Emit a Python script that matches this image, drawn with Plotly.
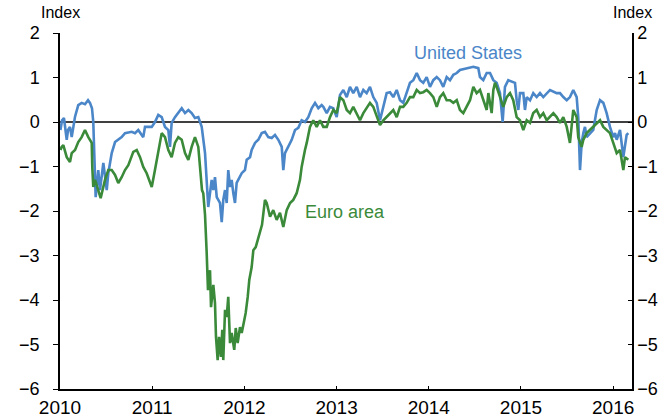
import plotly.graph_objects as go

# ---- data (decimal years, index values) ----
us_year = [
    2010.005, 2010.011, 2010.022, 2010.043, 2010.073, 2010.087, 2010.108, 2010.127, 2010.163, 2010.198,
    2010.235, 2010.271, 2010.304, 2010.325, 2010.347, 2010.361, 2010.372, 2010.387, 2010.415, 2010.434,
    2010.470, 2010.507, 2010.524, 2010.561, 2010.597, 2010.669, 2010.705, 2010.778, 2010.813, 2010.849,
    2010.903, 2010.922, 2010.995, 2011.030, 2011.066, 2011.103, 2011.139, 2011.175, 2011.193, 2011.211,
    2011.247, 2011.283, 2011.320, 2011.356, 2011.392, 2011.428, 2011.464, 2011.500, 2011.537, 2011.573,
    2011.591, 2011.608, 2011.645, 2011.663, 2011.681, 2011.700, 2011.735, 2011.754, 2011.771, 2011.790,
    2011.808, 2011.825, 2011.844, 2011.862, 2011.880, 2011.898, 2011.916, 2011.934, 2011.971, 2012.006,
    2012.025, 2012.061, 2012.079, 2012.115, 2012.151, 2012.188, 2012.223, 2012.259, 2012.296, 2012.332,
    2012.368, 2012.405, 2012.422, 2012.440, 2012.476, 2012.513, 2012.549, 2012.585, 2012.621, 2012.657,
    2012.693, 2012.730, 2012.766, 2012.802, 2012.838, 2012.856, 2012.893, 2012.928, 2012.964, 2013.001,
    2013.037, 2013.073, 2013.110, 2013.145, 2013.181, 2013.218, 2013.254, 2013.290, 2013.326, 2013.362,
    2013.398, 2013.435, 2013.471, 2013.507, 2013.543, 2013.579, 2013.615, 2013.652, 2013.688, 2013.723,
    2013.760, 2013.796, 2013.832, 2013.869, 2013.905, 2013.940, 2013.977, 2014.013, 2014.049, 2014.086,
    2014.121, 2014.157, 2014.194, 2014.230, 2014.266, 2014.303, 2014.338, 2014.411, 2014.483, 2014.537,
    2014.555, 2014.591, 2014.628, 2014.664, 2014.700, 2014.736, 2014.772, 2014.801, 2014.826, 2014.862,
    2014.899, 2014.935, 2014.953, 2014.971, 2014.989, 2015.025, 2015.043, 2015.062, 2015.098, 2015.133,
    2015.170, 2015.206, 2015.242, 2015.279, 2015.315, 2015.387, 2015.423, 2015.459, 2015.496, 2015.531,
    2015.567, 2015.604, 2015.621, 2015.640, 2015.658, 2015.676, 2015.694, 2015.712, 2015.748, 2015.784,
    2015.821, 2015.857, 2015.893, 2015.929, 2015.965, 2016.001, 2016.020, 2016.038, 2016.074, 2016.110,
    2016.146, 2016.164,
]
us_value = [
    -0.18, -0.11, 0.04, 0.09, -0.40, -0.18, -0.11, -0.34, 0.12, 0.38,
    0.43, 0.40, 0.49, 0.43, 0.31, 0.00, -0.92, -1.69, -1.08, -1.53,
    -0.92, -1.53, -1.15, -0.70, -0.45, -0.34, -0.25, -0.22, -0.25, -0.18,
    -0.34, -0.11, -0.11, 0.00, 0.16, 0.11, -0.11, -0.18, -0.56, -0.02,
    0.11, 0.22, 0.31, 0.20, 0.27, 0.20, 0.09, 0.11, -0.11, -0.70,
    -1.46, -1.91, -1.30, -1.53, -1.24, -1.69, -1.82, -2.25, -1.75, -1.53,
    -1.82, -1.08, -1.46, -1.30, -1.60, -1.82, -1.37, -1.30, -1.15, -1.08,
    -0.85, -0.79, -0.63, -0.47, -0.40, -0.25, -0.22, -0.34, -0.36, -0.29,
    -0.40, -0.56, -1.08, -0.70, -0.56, -0.40, -0.18, -0.13, 0.04, 0.00,
    0.11, 0.31, 0.43, 0.31, 0.38, 0.34, 0.20, 0.34, 0.31, 0.11,
    0.61, 0.72, 0.56, 0.79, 0.65, 0.79, 0.56, 0.72, 0.65, 0.79,
    0.56, 0.43, 0.04, 0.34, 0.65, 0.67, 0.56, 0.72, 0.49, 0.43,
    0.65, 0.88, 0.94, 1.10, 0.94, 0.88, 1.01, 0.79, 0.94, 1.01,
    0.94, 0.79, 1.01, 0.94, 1.06, 1.10, 1.17, 1.21, 1.24, 1.21,
    1.01, 0.94, 1.10, 1.10, 0.94, 0.88, 0.65, 0.00, 0.79, 0.94,
    0.90, 0.88, 0.49, 0.27, 0.65, 0.65, 0.27, 0.56, 0.49, 0.65,
    0.56, 0.65, 0.56, 0.65, 0.72, 0.65, 0.65, 0.56, 0.49, 0.56,
    0.72, 0.56, 0.11, -1.08, -0.47, -0.25, -0.11, -0.34, -0.25, -0.18,
    0.27, 0.49, 0.43, 0.20, -0.11, -0.34, -0.25, -0.40, -0.18, -0.79,
    -0.29, -0.25,
]

ea_year = [
    2010.005, 2010.018, 2010.036, 2010.073, 2010.108, 2010.127, 2010.163, 2010.198, 2010.235, 2010.271,
    2010.307, 2010.344, 2010.350, 2010.361, 2010.380, 2010.415, 2010.441, 2010.488, 2010.524, 2010.561,
    2010.597, 2010.632, 2010.669, 2010.705, 2010.741, 2010.795, 2010.832, 2010.868, 2010.903, 2010.940,
    2010.995, 2011.030, 2011.066, 2011.103, 2011.139, 2011.175, 2011.211, 2011.247, 2011.283, 2011.320,
    2011.356, 2011.392, 2011.428, 2011.464, 2011.500, 2011.518, 2011.540, 2011.554, 2011.573, 2011.591,
    2011.605, 2011.627, 2011.638, 2011.663, 2011.681, 2011.692, 2011.710, 2011.725, 2011.746, 2011.760,
    2011.771, 2011.790, 2011.808, 2011.825, 2011.844, 2011.862, 2011.890, 2011.906, 2011.927, 2011.952,
    2011.971, 2011.999, 2012.014, 2012.036, 2012.053, 2012.079, 2012.097, 2012.123, 2012.144, 2012.169,
    2012.191, 2012.223, 2012.242, 2012.278, 2012.313, 2012.350, 2012.386, 2012.422, 2012.459, 2012.495,
    2012.530, 2012.567, 2012.603, 2012.621, 2012.639, 2012.657, 2012.676, 2012.693, 2012.711, 2012.747,
    2012.784, 2012.820, 2012.856, 2012.893, 2012.928, 2012.964, 2013.001, 2013.037, 2013.073, 2013.110,
    2013.145, 2013.181, 2013.218, 2013.254, 2013.290, 2013.326, 2013.362, 2013.398, 2013.435, 2013.471,
    2013.507, 2013.543, 2013.579, 2013.615, 2013.652, 2013.688, 2013.723, 2013.760, 2013.796, 2013.832,
    2013.869, 2013.905, 2013.940, 2013.977, 2014.013, 2014.049, 2014.086, 2014.121, 2014.157, 2014.194,
    2014.230, 2014.266, 2014.303, 2014.338, 2014.374, 2014.411, 2014.447, 2014.483, 2014.519, 2014.555,
    2014.591, 2014.628, 2014.646, 2014.682, 2014.700, 2014.718, 2014.736, 2014.772, 2014.808, 2014.845,
    2014.881, 2014.916, 2014.953, 2014.989, 2015.025, 2015.062, 2015.098, 2015.133, 2015.170, 2015.206,
    2015.242, 2015.279, 2015.315, 2015.351, 2015.387, 2015.423, 2015.459, 2015.496, 2015.531, 2015.567,
    2015.604, 2015.621, 2015.658, 2015.676, 2015.712, 2015.748, 2015.784, 2015.821, 2015.857, 2015.893,
    2015.929, 2015.965, 2016.001, 2016.038, 2016.074, 2016.110, 2016.128, 2016.164,
]
ea_value = [
    -0.63, -0.56, -0.52, -0.79, -0.90, -0.70, -0.63, -0.45, -0.34, -0.18,
    -0.34, -0.47, -1.01, -1.46, -1.30, -1.53, -1.71, -1.30, -1.08, -1.08,
    -1.19, -1.37, -1.24, -1.08, -0.97, -0.67, -0.63, -0.79, -1.01, -1.15,
    -1.46, -1.08, -0.63, -0.25, -0.34, -0.63, -0.79, -0.47, -0.34, -0.40,
    -0.70, -0.85, -0.56, -0.34, -0.56, -1.08, -1.53, -1.60, -2.09, -2.94,
    -3.78, -3.33, -4.16, -3.66, -4.07, -4.83, -5.35, -4.83, -5.28, -4.67,
    -5.35, -4.22, -4.38, -3.93, -4.97, -4.74, -5.12, -4.63, -4.97, -4.61,
    -4.74, -4.45, -4.29, -3.93, -3.55, -3.26, -2.88, -2.81, -2.65, -2.49,
    -2.31, -1.75, -1.82, -2.13, -1.98, -2.20, -2.04, -2.36, -1.98, -1.82,
    -1.75, -1.60, -1.30, -1.01, -0.79, -0.63, -0.47, -0.25, -0.11, 0.04,
    -0.11, 0.04, -0.11, -0.11, 0.11, 0.27, 0.20, 0.56, 0.49, 0.27,
    0.20, 0.34, 0.20, 0.04, 0.20, 0.31, 0.43, 0.34, 0.11, -0.07,
    0.04, 0.11, 0.20, 0.27, 0.11, 0.34, 0.34, 0.43, 0.56, 0.56,
    0.72, 0.65, 0.67, 0.72, 0.65, 0.56, 0.34, 0.56, 0.65, 0.49,
    0.49, 0.43, 0.49, 0.27, 0.20, 0.34, 0.49, 0.79, 0.65, 0.72,
    0.49, 0.27, 0.65, 0.20, 0.72, 0.88, 0.79, 0.56, 0.34, 0.56,
    0.65, 0.49, 0.11, 0.04, -0.18, 0.04, -0.02, 0.20, 0.27, 0.11,
    0.20, 0.04, 0.11, 0.20, 0.11, -0.02, 0.11, -0.11, -0.47, 0.27,
    0.11, -0.34, -0.56, -0.40, -0.25, -0.18, -0.11, -0.02, 0.04, -0.11,
    -0.18, -0.25, -0.47, -0.70, -0.63, -1.08, -0.79, -0.85,
]

year_ticks = [2010, 2011, 2012, 2013, 2014, 2015, 2016]
year_labels = ["2010", "2011", "2012", "2013", "2014", "2015", "2016"]
index_ticks = [2, 1, 0, -1, -2, -3, -4, -5, -6]
index_labels = ["2", "1", "0", "−1", "−2", "−3", "−4", "−5", "−6"]

US_COLOR = "#4a86c8"
EA_COLOR = "#3a8a3a"
FONT = "Liberation Sans, Arial, sans-serif"

fig = go.Figure()
fig.add_trace(go.Scatter(x=us_year, y=us_value, mode="lines", name="United States",
                         line=dict(color=US_COLOR, width=2.6), hoverinfo="skip"))
fig.add_trace(go.Scatter(x=ea_year, y=ea_value, mode="lines", name="Euro area",
                         line=dict(color=EA_COLOR, width=2.6), hoverinfo="skip"))
# invisible trace so the right-hand axis is drawn
fig.add_trace(go.Scatter(x=[us_year[0]], y=[us_value[0]], yaxis="y2", mode="markers",
                         marker=dict(opacity=0), showlegend=False, hoverinfo="skip"))

fig.add_shape(type="line", xref="paper", x0=0, x1=1, yref="y", y0=0, y1=0,
              line=dict(color="black", width=1.5), layer="below")

axis_common = dict(range=[-6, 2], tickvals=index_ticks, ticktext=index_labels,
                   showgrid=False, zeroline=False, showline=True, linecolor="black",
                   linewidth=1.5, tickcolor="black", tickwidth=1.2, automargin=False,
                   tickfont=dict(family=FONT, size=18, color="black"))

fig.update_layout(
    width=668, height=419,
    margin=dict(l=60, r=36, t=33, b=30, autoexpand=False),
    paper_bgcolor="white", plot_bgcolor="white",
    showlegend=False,
    font=dict(family=FONT, color="black"),
    xaxis=dict(range=[2010, 2016.204], tickvals=year_ticks, ticktext=year_labels,
               showgrid=False, zeroline=False, showline=True, linecolor="black",
               linewidth=1.5, ticks="inside", ticklen=3, tickcolor="black", automargin=False,
               tickfont=dict(family=FONT, size=19, color="black")),
    yaxis=dict(side="left", ticks="outside", ticklen=5, ticklabelstandoff=10, **axis_common),
    yaxis2=dict(side="right", overlaying="y", ticks="inside", ticklen=4, **axis_common),
    annotations=[
        dict(text="Index", xref="paper", yref="paper", x=0, y=1.0576, xanchor="center",
             yanchor="middle", showarrow=False, font=dict(family=FONT, size=16, color="black")),
        dict(text="Index", xref="paper", yref="paper", x=1, y=1.0576, xanchor="center",
             yanchor="middle", showarrow=False, font=dict(family=FONT, size=16, color="black")),
        dict(text="United States", xref="x", yref="y", x=2014.42, y=1.55, xanchor="center",
             yanchor="middle", showarrow=False, font=dict(family=FONT, size=18, color=US_COLOR)),
        dict(text="Euro area", xref="x", yref="y", x=2012.636, y=-2.03, xanchor="left",
             yanchor="middle", showarrow=False, font=dict(family=FONT, size=18, color=EA_COLOR)),
    ],
)

# remove the browser's default 8px page margin so the figure fills the window exactly
fig.write_html("out.html", config={"displayModeBar": False},
               post_script="document.body.style.margin='0';document.body.style.overflow='hidden';")
